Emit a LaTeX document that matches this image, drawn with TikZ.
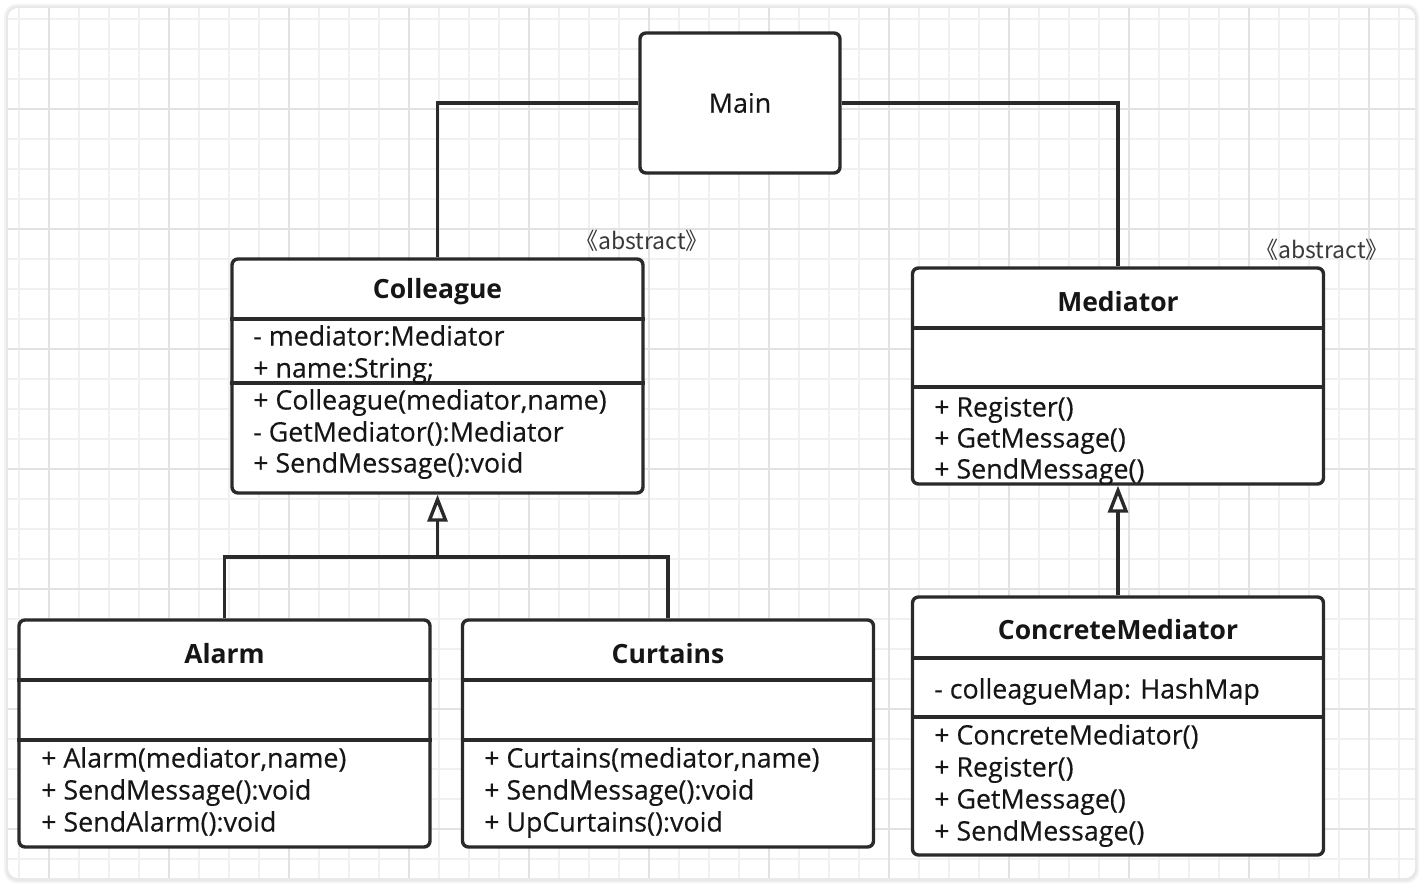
\documentclass[tikz,border=0pt]{standalone}
\usepackage{fontspec}
\setmainfont{Open Sans}
\newfontfamily\regfont{Open Sans}[FakeBold=0.35]
\newfontfamily\cjk{Noto Sans CJK SC}
\usetikzlibrary{arrows.meta}
\definecolor{ink}{HTML}{2A2A2A}
\definecolor{txt}{HTML}{161616}
\definecolor{gminor}{HTML}{F0F0F0}
\definecolor{gmajor}{HTML}{E2E2E2}
\begin{document}
\begin{tikzpicture}[x=1pt,y=-1pt,
  umlbox/.style={draw=ink, line width=3.4pt, rounded corners=6pt, fill=white, inner sep=0pt, minimum width=411pt},
  ttl/.style={font=\fontsize{26.5}{32}\selectfont\bfseries, text=txt, inner sep=0pt},
  itm/.style={font=\regfont\fontsize{26.8}{32}\selectfont, text=txt, inner sep=0pt, anchor=west, text height=19pt, text depth=6pt},
  conn/.style={draw=ink, line width=3.4pt},
  inh/.style={conn, -{Triangle[open, length=27pt, width=20pt]}},
  stereo/.style={font=\cjk\fontsize{23}{26}\selectfont, text=txt!85, inner sep=0pt}
]
\useasboundingbox (0,0) rectangle (1422,886);
\fill[white] (0,0) rectangle (1422,886);
% frame with soft shadow
\fill[black!5, rounded corners=13pt] (4,4) rectangle (1419,883);
\fill[black!9, rounded corners=11pt] (6,6) rectangle (1417,881);
\fill[white, rounded corners=10pt] (8,8) rectangle (1415,878);
\begin{scope}
  \clip[rounded corners=10pt] (8,8) rectangle (1415,878);
  \foreach \x in {19,49,...,1414} \draw[gminor, line width=1.6pt] (\x,8) -- (\x,878);
  \foreach \y in {19,49,...,878} \draw[gminor, line width=1.6pt] (8,\y) -- (1415,\y);
  \foreach \x in {49,169,...,1414} \draw[gmajor, line width=1.8pt] (\x,8) -- (\x,878);
  \foreach \y in {109,229,...,878} \draw[gmajor, line width=1.8pt] (8,\y) -- (1415,\y);
\end{scope}

% Main
\node[umlbox, minimum width=200pt, minimum height=140pt, font=\regfont\fontsize{26.8}{32}\selectfont, text=txt] (main) at (740,103) {Main};

% Colleague
\node[umlbox, minimum height=234pt] (colleague) at (437.5,376) {};
\draw[conn] (colleague.west |- 0,319) -- (colleague.east |- 0,319);
\draw[conn] (colleague.west |- 0,383) -- (colleague.east |- 0,383);
\node[ttl] (colleaguet) at (437.5,292) {Colleague};
\node[itm] (c1) at (253,339) {- mediator:Mediator};
\node[itm] (c2) at (253,371) {+ name:String;};
\node[itm] (c3) at (253,403) {+ Colleague(mediator,name)};
\node[itm] (c4) at (253,435) {- GetMediator():Mediator};
\node[itm] (c5) at (253,466) {+ SendMessage():void};
\node[stereo] (cabs) at (642,241) {《abstract》};

% Mediator
\node[umlbox, minimum height=216pt] (mediator) at (1118,376) {};
\draw[conn] (mediator.west |- 0,328) -- (mediator.east |- 0,328);
\draw[conn] (mediator.west |- 0,387) -- (mediator.east |- 0,387);
\node[ttl] (mediatort) at (1118,302) {Mediator};
\node[itm] (m1) at (934,410) {+ Register()};
\node[itm] (m2) at (934,441) {+ GetMessage()};
\node[itm] (m3) at (934,472) {+ SendMessage()};
\node[stereo] (mabs) at (1322,250) {《abstract》};

% ConcreteMediator
\node[umlbox, minimum height=258pt] (cmed) at (1118,726) {};
\draw[conn] (cmed.west |- 0,658) -- (cmed.east |- 0,658);
\draw[conn] (cmed.west |- 0,717) -- (cmed.east |- 0,717);
\node[ttl] (cmedt) at (1118,630) {ConcreteMediator};
\node[itm] (k0) at (934,692) {- colleagueMap: HashMap};
\node[itm] (k1) at (934,738) {+ ConcreteMediator()};
\node[itm] (k2) at (934,770) {+ Register()};
\node[itm] (k3) at (934,802) {+ GetMessage()};
\node[itm] (k4) at (934,834) {+ SendMessage()};

% Alarm
\node[umlbox, minimum height=227pt] (alarm) at (224.5,733.5) {};
\draw[conn] (alarm.west |- 0,680) -- (alarm.east |- 0,680);
\draw[conn] (alarm.west |- 0,740) -- (alarm.east |- 0,740);
\node[ttl] (alarmt) at (224.5,654) {Alarm};
\node[itm] (a1) at (41,761) {+ Alarm(mediator,name)};
\node[itm] (a2) at (41,793) {+ SendMessage():void};
\node[itm] (a3) at (41,825) {+ SendAlarm():void};

% Curtains
\node[umlbox, minimum height=227pt] (curtains) at (668,733.5) {};
\draw[conn] (curtains.west |- 0,680) -- (curtains.east |- 0,680);
\draw[conn] (curtains.west |- 0,740) -- (curtains.east |- 0,740);
\node[ttl] (curtainst) at (668,654) {Curtains};
\node[itm] (u1) at (484,761) {+ Curtains(mediator,name)};
\node[itm] (u2) at (484,793) {+ SendMessage():void};
\node[itm] (u3) at (484,825) {+ UpCurtains():void};

% connectors
\draw[conn] (main.west) -| (colleague.north);
\draw[conn] (main.east) -| (mediator.north);
\coordinate (jn) at (437.5,557);
\draw[conn] (alarm.north) |- (jn) -| (curtains.north);
\draw[inh] (jn) -- (colleague.south);
\draw[inh] (cmed.north) -- (mediator.south);
\end{tikzpicture}
\end{document}
